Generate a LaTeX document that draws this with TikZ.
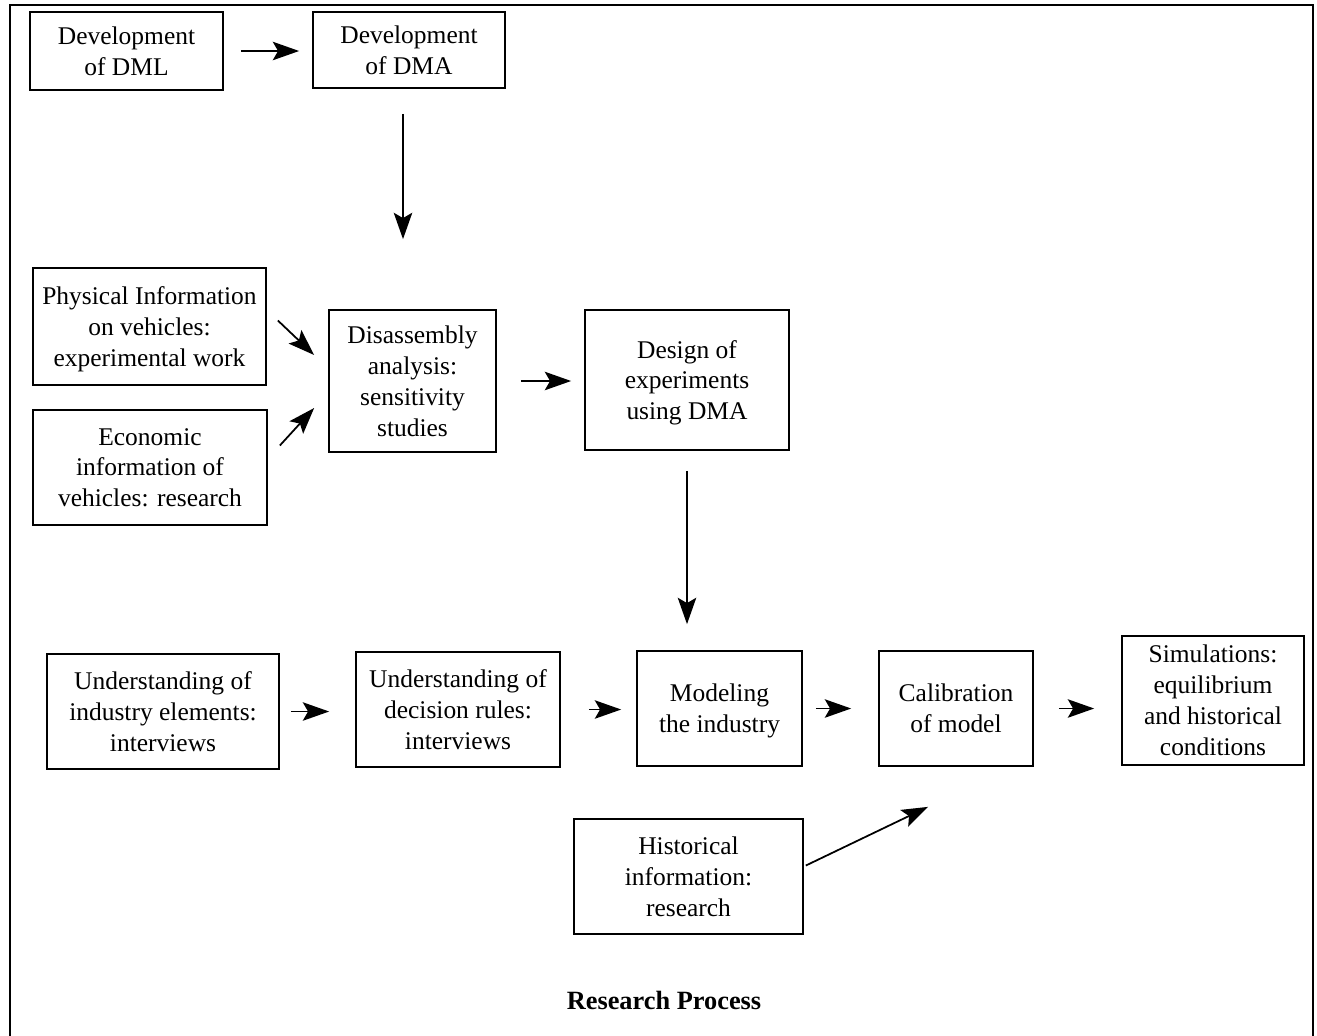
\documentclass[tikz,border=0pt]{standalone}
\usepackage{fontspec}
\setmainfont{Liberation Serif}
\usetikzlibrary{arrows.meta,calc}

\tikzset{
  stage/.style={draw, line width=1pt, align=center, inner sep=0pt, text depth=0pt,
    font=\fontsize{14.5}{17.6}\selectfont},
  flow/.style={line width=1pt, -{Stealth[length=15pt,width=10.5pt,inset=3pt]}},
}

\begin{document}
\begin{tikzpicture}[x=0.02cm, y=-0.02cm]
\useasboundingbox (0,0) rectangle (1317,1035);
% outer frame, its bottom edge lies below the page
\draw [line width=1.4pt] (10,1045) -- (10,5) -- (1313,5) -- (1313,1045);

\node [stage, minimum width=3.86cm, minimum height=1.56cm] (dml) at (126.5,51) {Development\\of DML};
\node [stage, minimum width=3.84cm, minimum height=1.52cm] (dma) at (409,50) {Development\\of DMA};

\node [stage, minimum width=4.66cm, minimum height=2.34cm] (phys) at (149.5,326.5) {Physical Information\\on vehicles:\\experimental work};
\node [stage, minimum width=4.68cm, minimum height=2.30cm] (econ) at (150,467.5) {Economic\\information of\\vehicles: research};
\node [stage, minimum width=3.34cm, minimum height=2.84cm] (dis) at (412.5,381) {Disassembly\\analysis:\\sensitivity\\studies};
\node [stage, minimum width=4.08cm, minimum height=2.80cm] (design) at (687,380) {Design of\\experiments\\using DMA};

\node [stage, minimum width=4.64cm, minimum height=2.30cm] (indust) at (163,711.5) {Understanding of\\industry elements:\\interviews};
\node [stage, minimum width=4.08cm, minimum height=2.30cm] (rules) at (458,709.5) {Understanding of\\decision rules:\\interviews};
\node [stage, minimum width=3.30cm, minimum height=2.30cm] (model) at (719.5,708.5) {Modeling\\the industry};
\node [stage, minimum width=3.08cm, minimum height=2.30cm] (calib) at (956,708.5) {Calibration\\of model};
\node [stage, minimum width=3.64cm, minimum height=2.58cm] (sim) at (1213,700.5) {Simulations:\\equilibrium\\and historical\\conditions};
\node [stage, minimum width=4.58cm, minimum height=2.30cm] (hist) at (688.5,876.5) {Historical\\information:\\research};

\node [font=\fontsize{15}{18}\selectfont\bfseries] (title) at (664,1000) {Research Process};

\draw [flow, shorten <=0.34cm, shorten >=0.26cm] (dml.east) -- (dml.east -| dma.west);
\draw [flow, shorten <=0.5cm, shorten >=1.4cm] ($(dma.south)+(-6,0)$) -- ($(dma.south |- dis.north)+(-6,0)$);
\draw [flow] ($(phys.east)+(11,-6)$) -- ($(dis.west)+(-14,-26)$);
\draw [flow] ($(econ.east)+(12,-22)$) -- ($(dis.west)+(-14,27)$);
\draw [flow, shorten <=0.48cm, shorten >=0.26cm] (dis.east) -- (dis.east -| design.west);
\draw [flow, shorten <=0.4cm, shorten >=0.52cm] (design.south) -- (design.south |- model.north);

\draw [flow, shorten <=0.22cm, shorten >=0.52cm] (indust.east) -- (indust.east -| rules.west);
\draw [flow, shorten <=0.56cm, shorten >=0.3cm] (rules.east) -- (rules.east -| model.west);
\draw [flow, shorten <=0.26cm, shorten >=0.54cm] (model.east) -- (model.east -| calib.west);
\draw [flow, shorten <=0.5cm, shorten >=0.54cm] (calib.east) -- (calib.east -| sim.west);
\draw [flow] ($(hist.east)+(2,-11)$) -- ($(calib.south)+(-28,40)$);
\end{tikzpicture}
\end{document}
